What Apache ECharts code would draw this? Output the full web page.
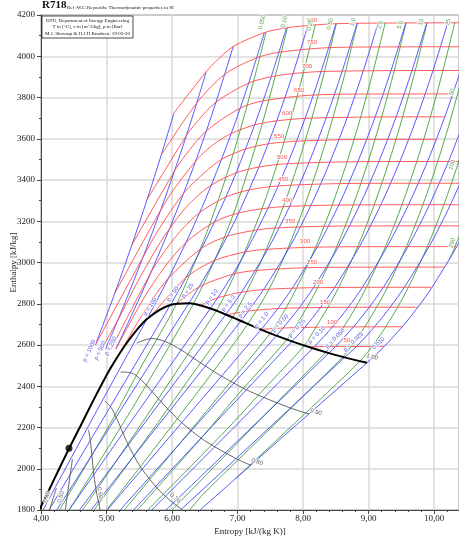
<!DOCTYPE html>
<html><head><meta charset="utf-8">
<script src="https://cdn.jsdelivr.net/npm/echarts@6/dist/echarts.min.js"></script>
<style>html,body{margin:0;padding:0;background:#fff}#c{width:459px;height:539px}</style>
</head><body><div id="c"></div>
<script>
// ---------- axes ----------
const xTicks = [4, 5, 6, 7, 8, 9, 10];
const yTicks = [1800, 2000, 2200, 2400, 2600, 2800, 3000, 3200, 3400, 3600, 3800, 4000, 4200];

// ---------- saturation line [s, h] ----------
const satLine = [[3.917,1764.2],[4.016,1827.2],[4.114,1890.7],[4.22,1962],[4.407,2084.3],[4.62,2218],[4.803,2334],[4.931,2412.3],[5.054,2484],[5.311,2610.8],[5.616,2725.5],[5.974,2794.2],[6.256,2802],[6.585,2777.1],[6.821,2748.1],[7.052,2716.5],[7.359,2674.9],[7.593,2645.2],[7.831,2617.5],[8.149,2583.9],[8.394,2560.7],[8.634,2540],[8.975,2513.7]];
const criticalPoint = [[4.427,2100]];

// ---------- isobars (bar) ----------
const p1000 = [[4.83,2600],[5.125,2850],[5.387,3085],[5.619,3305],[5.834,3520],[6.03,3725]];
const p500 = [[4.985,2580],[5.1762,2722.5],[5.5563,3025.2],[5.8245,3252.6],[6.0373,3443.5],[6.2179,3614.6],[6.377,3773],[6.5225,3925.8]];
const p250 = [[5.1419,2580.2],[5.4722,2806.3],[5.6743,2949.7],[5.9592,3162.4],[6.1764,3335.6],[6.3602,3491.4],[6.5229,3637.4],[6.6707,3777.5],[6.9345,4047.1]];
const p100 = [[4.031,1800],[4.82,2263],[5.6159,2725.5],[5.9458,2924],[6.2141,3097.5],[6.4219,3242.4],[6.5995,3375.1],[6.9045,3625.8],[7.1696,3870],[7.4087,4114.5]];
const p50 = [[4.123,1800],[5.05,2297],[5.9737,2794.2],[6.2111,2925.7],[6.4516,3069.3],[6.6483,3196.7],[6.821,3317.2],[6.9781,3434.7],[7.2605,3666.9],[7.5136,3900.3],[7.7458,4137.7]];
const p25 = [[4.24,1800],[5.25,2301],[6.2558,2802],[6.4107,2880.9],[6.6459,3009.6],[6.8424,3127],[7.017,3240.1],[7.3254,3462.8],[7.5979,3686.8],[7.8455,3915.9],[8.0744,4149]];
const p10 = [[4.428,1800],[5.5,2286],[6.585,2777.1],[6.6956,2828.3],[6.9265,2943.1],[7.1246,3051.6],[7.467,3264.5],[7.7642,3479.1],[8.0311,3698.6],[8.2755,3925.8],[8.5024,4157.8]];
const p5 = [[4.589,1800],[5.7,2272],[6.8207,2748.1],[7.061,2855.8],[7.4614,3064.6],[7.7956,3272.4],[8.0893,3484.5],[8.3544,3702.5],[8.5978,3928.2],[8.824,4159.8]];
const p2_5 = [[4.764,1800],[5.9,2255],[7.052,2716.5],[7.163,2765],[7.397,2868.6],[7.788,3070.8],[8.119,3276.2],[8.411,3487.2],[8.676,3704.4],[8.919,3929.3],[9.145,4160.7]];
const p1 = [[5.012,1800],[6.19,2239],[7.3588,2674.9],[7.6148,2776.6],[7.8356,2875.5],[8.2172,3074.5],[8.5452,3278.6],[8.8362,3488.7],[9.0999,3705.6],[9.3424,3930.3],[9.5682,4161.6]];
const p0_5 = [[5.208,1800],[6.4,2222],[7.5931,2645.2],[7.6953,2682.4],[7.9413,2780.2],[8.1592,2877.8],[8.5387,3075.8],[8.8659,3279.3],[9.1566,3489.2],[9.4201,3705.9],[9.6626,3930.6],[9.8883,4162]];
const p0_25 = [[5.413,1800],[6.62,2209],[7.8314,2617.5],[8.026,2685],[8.2664,2782],[8.482,2879],[8.8598,3076.3],[9.1865,3279.8],[9.4769,3489.5],[9.7402,3706],[9.9827,3930.7],[10.2083,4162]];
const p0_1 = [[5.691,1800],[6.92,2192],[8.1488,2583.9],[8.1741,2592],[8.4489,2687.5],[8.6893,2783],[8.9049,2879.6],[9.2827,3076.7],[9.6094,3280],[9.8998,3489.7],[10.1631,3706.3],[10.4056,3930.9]];
const p0_05 = [[5.908,1800],[7.15,2180],[8.3938,2560.7],[8.494,2592],[8.7688,2687.5],[9.0092,2783],[9.2248,2879.6],[9.6026,3076.7],[9.9293,3280],[10.2197,3489.7],[10.483,3706.3]];
const p0_025 = [[6.13,1800],[7.38,2168],[8.634,2540],[8.814,2592],[9.0887,2687.5],[9.329,2783],[9.5447,2879.6],[9.9225,3076.7],[10.2492,3280],[10.5396,3489.7]];
const p0_01 = [[6.428,1800],[7.7,2157],[8.975,2513.7],[9.2368,2592],[9.5116,2687.5],[9.752,2783],[9.9676,2879.6],[10.345,3076.7],[10.672,3280]];

// ---------- isotherms (°C) ----------
const t50 = [[8.0748,2591.3],[8.1741,2592.0],[8.494,2592.4],[8.814,2592.6],[9.2368,2592.8]];
const t100 = [[7.3542,2675.6],[7.6953,2682.4],[8.026,2685.0],[8.4489,2687.5],[8.7688,2688.0],[9.0887,2688.2],[9.5116,2688.4]];
const t150 = [[6.8371,2745.9],[7.163,2765.0],[7.6148,2776.6],[7.9413,2780.2],[8.6893,2783.0],[9.752,2783.3]];
const t200 = [[6.4302,2792.0],[6.6956,2828.3],[7.061,2855.8],[7.397,2868.6],[7.8356,2875.5],[8.1592,2877.8],[8.9049,2879.6],[9.9676,2879.8]];
const t250 = [[6.0722,2801.0],[6.4107,2880.9],[6.9265,2943.1],[7.2725,2961.0],[8.0346,2974.5],[9.1015,2977.5],[10.164,2977.7]];
const t300 = [[5.7059,2749.6],[6.2111,2925.7],[6.6459,3009.6],[7.1246,3051.6],[7.4614,3064.6],[8.2172,3074.5],[9.2827,3076.7],[10.345,3077.0]];
const t350 = [[5.2111,2563.6],[5.443,2692.9],[5.7118,2826.6],[5.9458,2924.0],[6.4516,3069.3],[6.8424,3127.0],[7.3029,3158.2],[7.6346,3168.1],[8.388,3176.0],[9.45,3177.5],[10.51,3177.7]];
const t400 = [[5.1419,2580.2],[5.5525,2818.1],[5.8811,2975.7],[6.2141,3097.5],[6.6483,3196.7],[7.017,3240.1],[7.467,3264.5],[7.7956,3272.4],[8.5452,3278.6],[9.6094,3280.0],[10.672,3280.1]];
const t450 = [[5.07,2580],[5.6743,2949.7],[5.9043,3062.4],[6.1434,3157.9],[6.4219,3242.4],[6.821,3317.2],[7.1768,3351.6],[7.6204,3371.3],[8.6953,3383.1],[9.759,3384.3],[10.82,3384.4]];
const t500 = [[4.92,2580],[5.1762,2722.5],[5.4744,2906.5],[5.7956,3084.8],[5.9592,3162.4],[6.1433,3241.1],[6.348,3310.8],[6.5995,3375.1],[6.9781,3434.7],[7.3254,3462.8],[7.7642,3479.1],[8.8362,3488.7],[9.8998,3489.7],[10.96,3489.8]];
const t550 = [[4.83,2600],[5.5563,3025.2],[5.7857,3154.4],[6.1764,3335.6],[6.523,3443.0],[6.7585,3500.4],[7.1258,3550.3],[7.463,3575.0],[7.9003,3588.1],[8.9724,3597.0],[10.036,3597.5]];
const t600 = [[5.125,2850],[5.8245,3252.6],[6.017,3350.4],[6.3602,3491.4],[6.5063,3539.0],[6.6796,3583.1],[6.9045,3625.8],[7.2605,3666.9],[7.5979,3686.8],[8.0311,3698.6],[9.0999,3705.6],[10.1631,3706.3]];
const t650 = [[5.387,3085],[6.0373,3443.5],[6.2078,3521.6],[6.5229,3637.4],[7.0398,3748.1],[7.3901,3783.5],[8.1557,3811.9],[9.2234,3817.0],[10.287,3817.4]];
const t700 = [[5.619,3305],[6.2179,3614.6],[6.374,3679.2],[6.6707,3777.5],[7.1696,3870.0],[7.5136,3900.3],[7.8455,3915.9],[8.2755,3925.8],[9.3424,3930.3],[10.4056,3930.9]];
const t750 = [[5.834,3520],[6.377,3773],[6.808,3913],[7.291,3992],[7.632,4019],[8.39,4041.6],[9.457,4045.4],[10.52,4046.0]];
const t800 = [[6.03,3725],[6.5225,3925.8],[6.6613,3972.6],[6.9345,4047.1],[7.4087,4114.5],[7.7458,4137.7],[8.0744,4149.0],[8.5024,4157.8],[9.5682,4161.6],[10.6312,4162.2]];

// ---------- isochores (m^3/kg) ----------
const v0_050 = [[4.27,1793],[4.66,2003],[5.086,2236],[5.557,2511],[6.072,2801],[6.38,3026],[6.581,3190],[6.832,3422],[7.051,3653],[7.25,3885],[7.435,4116]];
const v0_10 = [[4.42,1796],[4.952,2066],[5.545,2373],[6.324,2798.6],[6.665,3021],[6.932,3231],[7.17,3455],[7.383,3680],[7.5785,3908],[7.761,4138]];
const v0_25 = [[4.637,1801],[5.019,1976.6],[5.855,2370],[6.677,2766.4],[6.8,2837],[7.0625,3017.6],[7.373,3260],[7.6035,3476],[7.813,3695],[8.0064,3922],[8.1878,4153]];
const v0_50 = [[4.81,1800],[5.142,1943],[5.668,2172],[6.23,2422],[6.925,2734],[7.138,2859],[7.3728,3016],[7.698,3270.5],[7.927,3483],[8.135,3701],[8.328,3927],[8.509,4159]];
const v1_0 = [[5.0,1800],[5.541,2019.8],[6.2275,2303.6],[6.676,2491],[7.152,2700],[7.4818,2871],[7.7711,3071],[8.0236,3276],[8.2501,3487],[8.4573,3704],[8.6497,3929],[8.8302,4161]];
const v2_5 = [[5.27,1800],[5.873,2029],[6.802,2385.8],[7.498,2657],[7.7406,2780],[7.9047,2879],[8.194,3076],[8.4465,3280],[8.673,3489.5],[8.88,3706],[9.0726,3930.8],[9.2531,4162]];
const v5_0 = [[5.47,1800],[6.491,2164.8],[6.99,2354],[7.754,2626.1],[7.8782,2687],[8.0605,2783],[8.2246,2879.6],[8.5139,3076.7],[8.7664,3280],[8.9929,3489.7],[9.2,3706.3],[9.3925,3930.9],[9.573,4162.2]];
const v10 = [[5.63,1800],[6.833,2190],[7.38,2378],[8.023,2598.6],[8.198,2687.5],[8.3804,2783],[8.5445,2879.6],[8.8338,3076.7],[9.0863,3280],[9.3128,3489.7],[9.5199,3706.3],[9.7124,3930.9],[9.8928,4162.2]];
const v25 = [[6.0,1800],[6.531,1973],[7.49,2285],[8.35,2565],[8.4126,2592],[8.6209,2687.5],[8.8033,2783],[8.9673,2879.6],[9.2567,3076.7],[9.5092,3280],[9.7356,3489.7],[9.9428,3706.3],[10.1353,3930.9],[10.3157,4162.2]];
const v50 = [[6.27,1800],[6.47,1875],[7.541,2207.6],[8.607,2542],[8.7324,2592],[8.9408,2687.5],[9.1232,2783],[9.2872,2879.6],[9.5765,3076.7],[9.829,3280],[10.0555,3489.7],[10.2627,3706.3],[10.4551,3930.9]];
const v100 = [[6.971,1952.6],[8.379,2371.8],[8.869,2521.6],[9.0523,2592],[9.2607,2687.5],[9.4431,2783],[9.6071,2879.6],[9.8965,3076.7],[10.1489,3280],[10.3754,3489.7],[10.58,3706]];
const v250 = [[10.231,3014],[10.3193,3076.7],[10.448,3177.7]];

// ---------- quality lines ----------
const x0_4 = [[4.236,1907],[4.182,1854],[4.132,1800]];
const x0_5 = [[4.4806,2047.4],[4.4433,1966.3],[4.402,1872.3],[4.376,1810],[4.373,1800]];
const x0_6 = [[4.7256,2187.9],[4.7549,2132.5],[4.7789,2058],[4.8061,1971.6],[4.8533,1875.8],[4.8887,1825.1],[4.9,1800]];
const x0_7 = [[4.9707,2328.4],[5.0666,2298.8],[5.1557,2243.7],[5.2506,2173],[5.3723,2090.2],[5.54,1998.7],[5.785,1901.6],[5.951,1851.7],[6.155,1801.4]];
const x0_8 = [[5.2158,2468.8],[5.378,2465.1],[5.5326,2429.5],[5.695,2374.4],[5.891,2304.6],[6.1448,2224.3],[6.4928,2137.3],[6.992,2046.7],[7.201,2017.2]];
const x0_9 = [[5.4608,2609.3],[5.69,2631.4],[5.909,2615.2],[6.1395,2575.8],[6.41,2519],[6.7495,2449.9],[7.2005,2373.1],[7.829,2292.1],[8.088,2265.7]];

// ---------- label texts and anchor points ----------
const isobarLabels = ['p = 1000','p = 500','p = 250','p = 100','p = 50','p = 25','p = 10','p = 5.0','p = 2.5','p = 1.0','p = 0.50','p = 0.25','p = 0.10','p = 0.050','p = 0.025','0.010'];
const isobarLabelAt = [[4.737,2572],[4.901,2572],[5.064,2595],[5.664,2786],[6.011,2847],[6.24,2863],[6.606,2834],[6.86,2802],[7.115,2770],[7.369,2721],[7.649,2705],[7.904,2681],[8.209,2648],[8.489,2632],[8.768,2616],[9.15,2608]];
const isothermLabels = ['800','750','700','650','600','550','500','450','400','350','300','250','200','150','100','50'];
const isothermLabelAt = [[8.137,4176],[8.137,4069],[8.061,3953],[7.939,3836],[7.756,3725],[7.634,3613],[7.679,3512],[7.695,3405],[7.756,3303],[7.802,3201],[8.031,3104],[8.137,3002],[8.229,2905],[8.336,2808],[8.443,2712],[8.672,2624]];
const isochoreLabels = ['0.050','0.10','0.25','0.50','1.0','2.5','5.0','10','25','50','100','250'];
const isochoreLabelAt = [[7.374,4166],[7.71,4166],[8.107,4152],[8.412,4157],[8.763,4166],[9.176,4152],[9.481,4152],[9.802,4166],[10.214,4166],[10.275,3827],[10.275,3473],[10.275,3095]];
const qualityLabels = ['0.40','0.50','0.60','0.70','0.80','0.90','1.00'];
const qualityLabelAt = [[4.092,1863],[4.305,1863],[4.901,1882],[6.046,1858],[7.298,2033],[8.198,2275],[9.053,2542]];

// ---------- styles (kept separate from data) ----------
const BLUE = '#4646ff', RED = '#ff4a4a', GREEN = '#3f9f3f', GREY = '#555555';
const isobarRot = [65,65,62,57,55,55,52,52,50,50,48,47,46,45,44,42];
const isochoreRot = [75,75,75,75,75,75,75,75,75,72,72,72];
const qualityRot = [75,75,-80,-40,-18,-15,-12];

const isobars = [p1000,p500,p250,p100,p50,p25,p10,p5,p2_5,p1,p0_5,p0_25,p0_1,p0_05,p0_025,p0_01];
const isotherms = [t50,t100,t150,t200,t250,t300,t350,t400,t450,t500,t550,t600,t650,t700,t750,t800];
const isochores = [v0_050,v0_10,v0_25,v0_50,v1_0,v2_5,v5_0,v10,v25,v50,v100,v250];
const qualities = [x0_4,x0_5,x0_6,x0_7,x0_8,x0_9];

function curve(data, color, width, z) {
  return {type:'line', data:data, symbol:'none', smooth:0.3, clip:true, silent:true,
    lineStyle:{color:color, width:width}, z:z, animation:false};
}
function labels(texts, at, color, rots, size) {
  return {type:'scatter', symbolSize:0, silent:true, z:13, animation:false,
    data: texts.map((t,i)=>({value:at[i], name:t, label:{rotate: rots ? rots[i] : 0}})),
    label:{show:true, position:'inside', formatter:'{b}', color:color, fontSize:size,
      fontFamily:'Arial, Liberation Sans, sans-serif', textBorderColor:'#fff', textBorderWidth:2}};
}

const series = [];
isochores.forEach(d=>series.push(curve(d, GREEN, 0.9, 2)));
isobars.forEach(d=>series.push(curve(d, BLUE, 0.9, 3)));
isotherms.forEach(d=>series.push(curve(d, RED, 0.9, 3)));
qualities.forEach(d=>series.push(curve(d, GREY, 0.9, 4)));
series.push(curve(satLine, '#000', 2, 11));
series.push({type:'scatter', data:criticalPoint, symbolSize:7, itemStyle:{color:'#000'}, z:12, silent:true, animation:false});
series.push(labels(isobarLabels, isobarLabelAt, '#3030e0', isobarRot, 6));
series.push(labels(isothermLabels, isothermLabelAt, '#ff2020', null, 6));
series.push(labels(isochoreLabels, isochoreLabelAt, '#2e8a2e', isochoreRot, 6));
series.push(labels(qualityLabels, qualityLabelAt, '#333', qualityRot, 6));

const serif = 'Liberation Serif, DejaVu Serif, serif';
const chart = echarts.init(document.getElementById('c'), null, {renderer:'canvas'});
chart.setOption({
  backgroundColor:'#fff',
  animation:false,
  grid:{left:41, top:15, width:418, height:495, containLabel:false, outerBoundsMode:'none',
    show:true, borderColor:'#444', borderWidth:1, backgroundColor:'transparent'},
  xAxis:{type:'value', min:xTicks[0], max:10.38, interval:1,
    axisLine:{show:true, onZero:false, lineStyle:{color:'#444'}},
    axisTick:{show:true, length:4, lineStyle:{color:'#444'}},
    minorTick:{show:true, splitNumber:5, length:2, lineStyle:{color:'#444'}},
    axisLabel:{formatter:v=>v.toFixed(2).replace('.',','), fontFamily:serif, fontSize:9, color:'#222', margin:4, showMaxLabel:false},
    splitLine:{show:true, lineStyle:{color:'#d8d8d8', width:1.5}},
    name:'Entropy [kJ/(kg K)]', nameLocation:'middle', nameGap:17, nameMoveOverlap:false,
    nameTextStyle:{fontFamily:serif, fontSize:9, color:'#222'}},
  yAxis:{type:'value', min:yTicks[0], max:yTicks[yTicks.length-1], interval:200,
    axisLine:{show:true, onZero:false, lineStyle:{color:'#444'}},
    axisTick:{show:true, length:4, lineStyle:{color:'#444'}},
    minorTick:{show:true, splitNumber:2, length:2, lineStyle:{color:'#444'}},
    axisLabel:{formatter:v=>String(v), fontFamily:serif, fontSize:9, color:'#222', margin:6},
    splitLine:{show:true, lineStyle:{color:'#d8d8d8', width:1.5}},
    name:'Enthalpy [kJ/kg]', nameLocation:'middle', nameGap:23, nameRotate:90, nameMoveOverlap:false,
    nameTextStyle:{fontFamily:serif, fontSize:9, color:'#222'}},
  graphic:[
    {type:'text', left:42, top:0, style:{text:'R718', font:'bold 11px '+serif, fill:'#111'}},
    {type:'text', left:67, top:5, style:{text:'Ref :W.C.Reynolds: Thermodynamic properties in SI', font:'5px '+serif, fill:'#111'}},
    {type:'rect', shape:{x:42, y:16, width:91, height:22}, style:{fill:'#fff', stroke:'#222', lineWidth:0.8}, z:20},
    {type:'text', x:87.5, y:18, style:{text:'DTU, Department of Energy Engineering', font:'5px '+serif, fill:'#111', align:'center'}, z:21},
    {type:'text', x:87.5, y:24.5, style:{text:'T in [°C], v in [m^3/kg], p in [Bar]', font:'5px '+serif, fill:'#111', align:'center'}, z:21},
    {type:'text', x:87.5, y:31, style:{text:'M.J. Skovrup & H.J.H Knudsen. 19-03-20', font:'5px '+serif, fill:'#111', align:'center'}, z:21}
  ],
  series:series
});
</script></body></html>
